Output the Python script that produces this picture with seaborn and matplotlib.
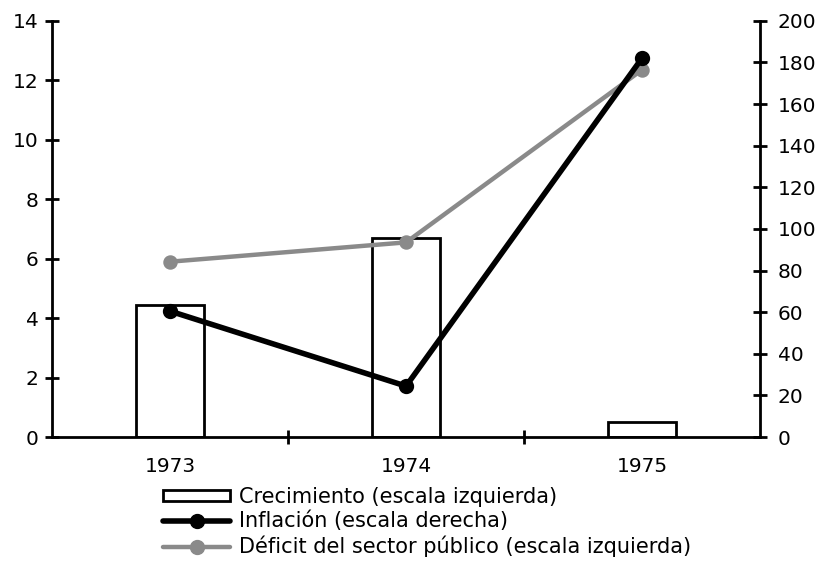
import numpy as np
import pandas as pd
import seaborn as sns
import matplotlib.pyplot as plt
from matplotlib.lines import Line2D
from matplotlib.patches import Patch

years = ['1973', '1974', '1975']
crecimiento = [4.45, 6.7, 0.5]      # escala izquierda
inflacion = [60.5, 24.5, 182.0]     # escala derecha
deficit = [5.9, 6.55, 12.35]        # escala izquierda

sns.set_theme(style='white')
plt.rcParams['font.family'] = ['DejaVu Sans']
plt.rcParams['text.color'] = 'black'
plt.rcParams['xtick.color'] = 'black'
plt.rcParams['ytick.color'] = 'black'

fig = plt.figure(figsize=(8.17, 5.64), dpi=100)
ax = fig.add_axes([0.064, 0.225, 0.866, 0.738])

df = pd.DataFrame({'year': years, 'crec': crecimiento,
                   'infl': inflacion, 'def': deficit})

sns.barplot(data=df, x='year', y='crec', ax=ax, width=0.29,
            color='white', edgecolor='black', linewidth=2, zorder=1)
sns.pointplot(data=df, x='year', y='def', ax=ax, color='#8a8a8a',
              markers='o', markersize=8, linewidth=3.2, zorder=3)

ax2 = ax.twinx()
sns.pointplot(data=df, x='year', y='infl', ax=ax2, color='black',
              markers='o', markersize=8, linewidth=4, zorder=4)

ax.set_xlim(-0.5, 2.5)
ax.set_ylim(0, 14)
ax2.set_ylim(0, 200)
ax.set_yticks(np.arange(0, 15, 2))
ax2.set_yticks(np.arange(0, 201, 20))
ax.set_xlabel('')
ax.set_ylabel('')
ax2.set_ylabel('')

for a in (ax, ax2):
    a.spines['top'].set_visible(False)
    for s in a.spines.values():
        s.set_linewidth(2)
        s.set_color('black')
ax.spines['right'].set_visible(False)
ax2.spines['left'].set_visible(False)
ax2.spines['bottom'].set_visible(False)

ax.tick_params(axis='y', direction='inout', length=10, width=2,
               labelsize=14.5, left=True, pad=5, labelcolor='black')
ax2.tick_params(axis='y', direction='inout', length=10, width=2,
                labelsize=14.5, right=True, pad=8, labelcolor='black')
ax.tick_params(axis='x', which='major', length=0, labelsize=14.5, pad=14,
               labelcolor='black')
ax.set_xticks([0.5, 1.5], minor=True)
ax.tick_params(axis='x', which='minor', direction='inout', length=10,
               width=2, bottom=True)

handles = [
    Patch(facecolor='white', edgecolor='black', linewidth=2),
    Line2D([0], [0], color='black', lw=4, marker='o', markersize=10),
    Line2D([0], [0], color='#8a8a8a', lw=3.2, marker='o', markersize=10),
]
labels = ['Crecimiento (escala izquierda)',
          'Inflación (escala derecha)',
          'Déficit del sector público (escala izquierda)']
fig.legend(handles, labels, loc='upper left',
           bbox_to_anchor=(0.2, 0.137), frameon=False, fontsize=15,
           handlelength=3.2, handleheight=0.45, handletextpad=0.45,
           labelspacing=0.2, borderpad=0, borderaxespad=0,
           labelcolor='black')

fig.savefig('out.png', dpi=100)
